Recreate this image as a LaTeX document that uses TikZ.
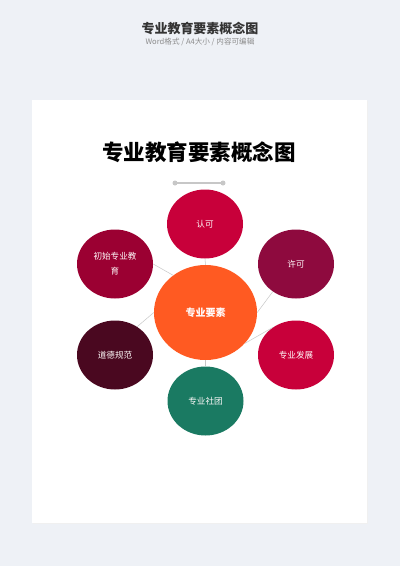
\documentclass[tikz,border=0pt]{standalone}
\usepackage{fontspec}
\setmainfont{Noto Sans CJK SC}
\usetikzlibrary{shapes.geometric}
\definecolor{bg}{HTML}{EEF1F6}
\definecolor{rkc}{HTML}{C8003A}
\definecolor{csc}{HTML}{9B0032}
\definecolor{xkc}{HTML}{8E0A3E}
\definecolor{zyc}{HTML}{FF5A22}
\definecolor{ddc}{HTML}{4A0820}
\definecolor{stc}{HTML}{1A7A62}
\begin{document}
\begin{tikzpicture}[x=1pt,y=-1pt,
  bubble/.style={ellipse,minimum width=76pt,minimum height=69pt,inner sep=0pt,text=white!92!pink,font=\fontsize{8.6}{15}\selectfont,align=center},
  link/.style={draw=black!22,line width=0.5pt}]
\useasboundingbox[fill=bg] (0,0) rectangle (400,566);
\fill[black!6] (32.5,100.5) rectangle (367.5,524);
\fill[white] (32,100) rectangle (367,523);
% header
\node (hd) at (200,29) {\fontsize{13}{13}\selectfont\bfseries\color{black!80}专业教育要素概念图};
\node (sub) at (200,42) {\fontsize{7.6}{8}\selectfont\color{black!45}Word格式 / A4大小 / 内容可编辑};
% page title
\node (ttl) at (199,152) {\fontsize{21.5}{21.5}\selectfont\bfseries 专业教育要素概念图};
\coordinate (sl) at (175,183);
\coordinate (sr) at (223,183);
\draw[black!22,line width=1.2pt] (sl) -- (sr);
\fill[black!22] (sl) circle (2.5pt) (sr) circle (2.5pt);
% bubbles
\node[bubble,fill=zyc,minimum width=103pt,minimum height=95pt,font=\fontsize{10}{10}\selectfont\bfseries] (zy) at (205.5,312.5) {专业要素};
\node[bubble,fill=rkc] (rk) at (205,224) {认可};
\node[bubble,fill=csc] (cs) at (115,264) {初始专业教\\育};
\node[bubble,fill=xkc] (xk) at (296,264) {许可};
\node[bubble,fill=ddc] (dd) at (115,355) {道德规范};
\node[bubble,fill=rkc] (fz) at (296,355) {专业发展};
\node[bubble,fill=stc] (st) at (205.5,401) {专业社团};
% links
\draw[link] (zy.north) -- (rk.south);
\draw[link] (zy.131) -- (cs.east);
\draw[link] (zy.east) -- (xk.230);
\draw[link] (zy.-38) -- (fz.130);
\draw[link] (zy.west) -- (dd.52);
\draw[link] (zy.south) -- (st.north);
\end{tikzpicture}
\end{document}
